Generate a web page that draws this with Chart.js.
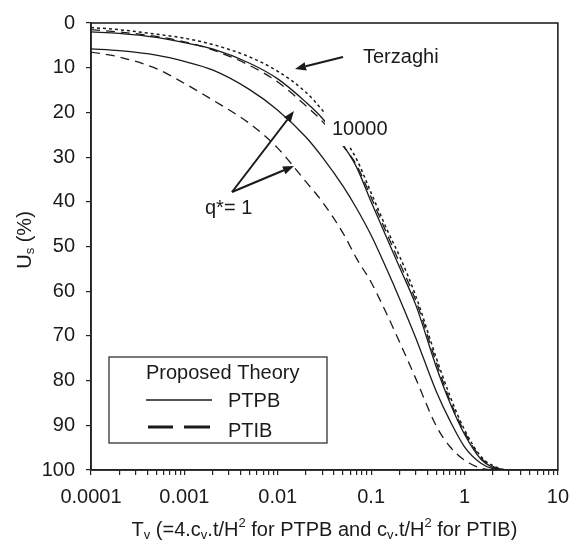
<!DOCTYPE html>
<html><head><meta charset="utf-8">
<script src="https://cdn.jsdelivr.net/npm/chart.js@4/dist/chart.umd.min.js"></script>
<style>html,body{margin:0;padding:0;background:#fff}#wrap{width:579px;height:557px}</style>
</head><body><div id="wrap"><canvas id="c" width="579" height="557"></canvas></div>
<script>
// Time factor Tv (x) and degree of settlement Us (%)
const tv = [0.0001,0.0002,0.0005,0.001,0.002,0.005,0.01,0.02,0.03,0.05,0.07,0.1,0.15,0.2,0.3,0.5,0.7,1,1.5,2,3,5];
const terzaghi   = [1.0,1.5,2.5,3.4,4.8,7.6,10.8,15.5,19.5,25.5,30.5,38,46.5,52,61,75,83.5,91,97,99,100,100];
const ptpb10000  = [2.0,2.3,3.2,4.4,5.8,9.0,12.5,17.7,21.3,27.3,32.3,40,48.5,54.5,63,77,85,92,97.6,99.4,100,100];
const ptib10000  = [1.5,2.0,3.0,4.2,6.0,9.5,13.2,18.5,22,27.5,31.8,39,47.5,53.5,62,76,84.5,91.5,97.3,99.2,100,100];
const ptpbQ1     = [5.8,6.2,7.2,8.6,10.5,14.9,19.5,25.5,30,36.5,41.5,47.5,55.5,61.5,70.4,82.5,89,94.8,98.5,99.7,100,100];
const ptibQ1     = [6.5,7.6,10.2,13.5,17.2,22.5,28,35.5,40,47,52.7,58,65.5,71.2,79.5,90.2,94.8,97.8,99.6,100,100,100];
const xTickLabels = ['0.0001','0.001','0.01','0.1','1','10'];
const yTicks = [0,10,20,30,40,50,60,70,80,90,100];

const FONT = "'Liberation Sans', Arial, sans-serif";
const INK = '#1a1a1a';
const pts = arr => arr.map((u,i)=>({x:tv[i], y:u}));
function ds(label, data, dash, width){
  return {label, data: pts(data), borderColor: INK, backgroundColor: INK, borderWidth: width,
    borderDash: dash, pointRadius: 0, fill: false, cubicInterpolationMode: 'monotone'};
}

function arrow(ctx, x1, y1, x2, y2){
  const a = Math.atan2(y2-y1, x2-x1), L = 11, W = 4.2;
  const bx = x2 - L*Math.cos(a), by = y2 - L*Math.sin(a);
  ctx.beginPath(); ctx.moveTo(x1,y1); ctx.lineTo(bx,by); ctx.lineWidth = 2; ctx.strokeStyle = INK; ctx.setLineDash([]); ctx.stroke();
  ctx.beginPath(); ctx.moveTo(x2,y2);
  ctx.lineTo(bx + W*Math.sin(a), by - W*Math.cos(a));
  ctx.lineTo(bx - W*Math.sin(a), by + W*Math.cos(a));
  ctx.closePath(); ctx.fillStyle = INK; ctx.fill();
}
function richWidth(ctx, segs){
  let w = 0;
  for (const s of segs){ ctx.font = (s.sub||s.sup ? '13px ' : '20px ') + FONT; w += ctx.measureText(s.t).width; }
  return w;
}
function drawRich(ctx, segs, x, y){
  let cx = x;
  for (const s of segs){
    ctx.font = (s.sub||s.sup ? '13px ' : '20px ') + FONT;
    const dy = s.sub ? 5 : (s.sup ? -7 : 0);
    ctx.fillText(s.t, cx, y + dy);
    cx += ctx.measureText(s.t).width;
  }
}

const decor = {
  id: 'decor',
  afterDatasetsDraw(chart){
    const ctx = chart.ctx, a = chart.chartArea;
    ctx.save();
    // frame
    ctx.strokeStyle = '#222'; ctx.lineWidth = 1.6; ctx.setLineDash([]);
    ctx.strokeRect(a.left, a.top, a.right - a.left, a.bottom - a.top);
    // label background for "10000"
    ctx.fillStyle = '#fff'; ctx.fillRect(325, 112, 67, 34);
    ctx.fillStyle = INK; ctx.textBaseline = 'middle'; ctx.textAlign = 'left';
    ctx.font = '20px ' + FONT;
    ctx.fillText('10000', 332, 129);
    ctx.fillText('Terzaghi', 363, 57);
    ctx.fillText('q*= 1', 205, 208);
    arrow(ctx, 343, 57, 295, 69);
    arrow(ctx, 232, 192, 294, 111);
    arrow(ctx, 232, 192, 294, 166);
    // legend
    ctx.fillStyle = '#fff'; ctx.fillRect(109, 357, 218, 86);
    ctx.strokeStyle = '#333'; ctx.lineWidth = 1.3; ctx.strokeRect(109, 357, 218, 86);
    ctx.fillStyle = INK; ctx.font = '20px ' + FONT;
    ctx.fillText('Proposed Theory', 146, 373);
    ctx.fillText('PTPB', 228, 401);
    ctx.fillText('PTIB', 228, 431);
    ctx.beginPath(); ctx.moveTo(146, 400); ctx.lineTo(212, 400); ctx.lineWidth = 1.3; ctx.strokeStyle = INK; ctx.stroke();
    ctx.lineWidth = 2.8;
    ctx.beginPath(); ctx.moveTo(148, 427); ctx.lineTo(173, 427); ctx.moveTo(184, 427); ctx.lineTo(210, 427); ctx.stroke();
    // axis titles
    const xt = [{t:'T'},{t:'v',sub:1},{t:' (=4.c'},{t:'v',sub:1},{t:'.t/H'},{t:'2',sup:1},{t:' for PTPB and c'},{t:'v',sub:1},{t:'.t/H'},{t:'2',sup:1},{t:' for PTIB)'}];
    const w = richWidth(ctx, xt);
    drawRich(ctx, xt, (a.left + a.right)/2 - w/2, 530);
    const yt = [{t:'U'},{t:'s',sub:1},{t:' (%)'}];
    const wy = richWidth(ctx, yt);
    ctx.translate(25, 240); ctx.rotate(-Math.PI/2);
    drawRich(ctx, yt, -wy/2, 0);
    ctx.restore();
  }
};

new Chart(document.getElementById('c'), {
  type: 'line',
  data: { datasets: [
    ds('Terzaghi', terzaghi, [3,3], 1.5),
    ds('PTPB q*=10000', ptpb10000, [], 1.3),
    ds('PTIB q*=10000', ptib10000, [9,6], 1.3),
    ds('PTPB q*=1', ptpbQ1, [], 1.3),
    ds('PTIB q*=1', ptibQ1, [9,6], 1.3)
  ]},
  options: {
    responsive: false, animation: false, devicePixelRatio: 1,
    layout: { padding: { left: 0, right: 19, top: 14, bottom: 0 } },
    plugins: { legend: { display: false }, tooltip: { enabled: false } },
    scales: {
      x: {
        type: 'logarithmic', min: 0.0001, max: 10,
        afterBuildTicks(scale){
          const t = [];
          for (let e = -4; e <= 0; e++) for (let m = 1; m <= 9; m++) t.push({value: +(m*Math.pow(10,e)).toPrecision(6)});
          t.push({value: 10});
          scale.ticks = t;
        },
        afterFit(scale){ scale.height = 87; },
        border: { display: true, color: '#222', width: 1.6 },
        grid: { display: true, drawOnChartArea: false, drawTicks: true, tickLength: 5, color: '#222', lineWidth: 1.2 },
        ticks: {
          autoSkip: false, maxRotation: 0, padding: 10, color: INK, font: { family: FONT, size: 20 },
          callback(v){
            const e = Math.log10(v), r = Math.round(e);
            return Math.abs(e - r) < 1e-6 ? xTickLabels[r + 4] : '';
          }
        },
        title: { display: false }
      },
      y: {
        type: 'linear', reverse: true, min: 0, max: 100,
        afterBuildTicks(scale){ scale.ticks = yTicks.map(v => ({value: v})); },
        afterFit(scale){ scale.width = 91; },
        border: { display: true, color: '#222', width: 1.6 },
        grid: { display: true, drawOnChartArea: false, drawTicks: true, tickLength: 5, color: '#222', lineWidth: 1.2 },
        ticks: { padding: 11, color: INK, font: { family: FONT, size: 20 } },
        title: { display: false }
      }
    }
  },
  plugins: [decor]
});
</script></body></html>
